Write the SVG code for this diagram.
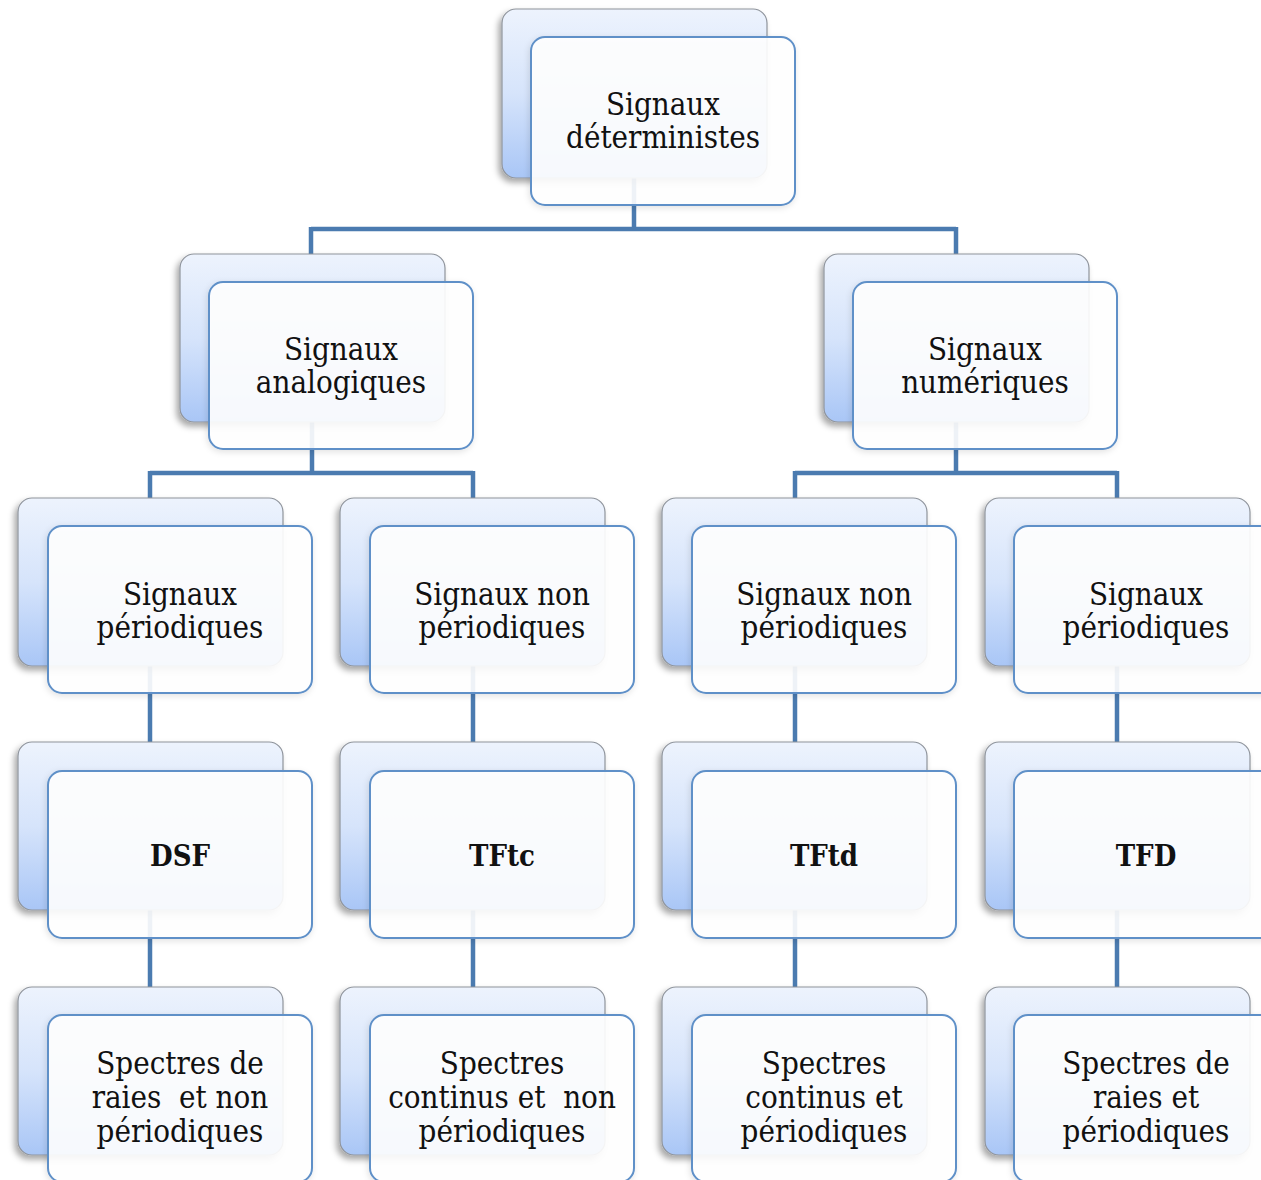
<svg xmlns="http://www.w3.org/2000/svg" width="1261" height="1180" viewBox="0 0 1261 1180">
<defs>
<linearGradient id="backGrad" x1="0" y1="0" x2="0" y2="1">
<stop offset="0" stop-color="#edf3fd"/>
<stop offset="0.5" stop-color="#d6e4fb"/>
<stop offset="1" stop-color="#a9c6f6"/>
</linearGradient>
<filter id="shadow" x="-10%" y="-10%" width="120%" height="125%">
<feDropShadow dx="-3" dy="4" stdDeviation="3" flood-color="#000" flood-opacity="0.35"/>
</filter>
<filter id="shadowSoft" x="-10%" y="-10%" width="120%" height="125%">
<feDropShadow dx="-1" dy="2" stdDeviation="3" flood-color="#000" flood-opacity="0.12"/>
</filter>
<style>
.back{fill:url(#backGrad);stroke:#8f949c;stroke-width:1.2;filter:url(#shadow)}
.front{fill:#ffffff;fill-opacity:0.9;stroke:#5f90c8;stroke-width:2;filter:url(#shadowSoft)}
.conn{fill:none;stroke:#4b7bb0;stroke-width:4.5}
text{font-family:"DejaVu Serif Condensed","Liberation Serif",serif;font-stretch:condensed;font-size:31px;fill:#111;text-anchor:middle;white-space:pre}
.b{font-weight:bold;font-size:29px}
</style>
</defs>
<rect width="1261" height="1180" fill="#ffffff"/>
<g id="connectors">
<path class="conn" d="M634 178 V229 M311 229 H956 M311 227 V254 M956 227 V254"/>
<path class="conn" d="M312 422 V473 M150 473 H473 M150 471 V498 M473 471 V498"/>
<path class="conn" d="M956 422 V473 M795 473 H1117 M795 471 V498 M1117 471 V498"/>
<path class="conn" d="M150 666 V742 M473 666 V742 M795 666 V742 M1117 666 V742"/>
<path class="conn" d="M150 910 V987 M473 910 V987 M795 910 V987 M1117 910 V987"/>
</g>
<g id="n-deterministes">
<rect class="back" x="502" y="9" width="265" height="169" rx="14"/>
<rect class="front" x="531" y="37" width="264" height="168" rx="14"/>
<text x="663" y="115">Signaux</text>
<text x="663" y="148">déterministes</text>
</g>
<g id="n-analogiques">
<rect class="back" x="180" y="254" width="265" height="168" rx="14"/>
<rect class="front" x="209" y="282" width="264" height="167" rx="14"/>
<text x="341" y="360">Signaux</text>
<text x="341" y="393">analogiques</text>
</g>
<g id="n-numeriques">
<rect class="back" x="824" y="254" width="265" height="168" rx="14"/>
<rect class="front" x="853" y="282" width="264" height="167" rx="14"/>
<text x="985" y="360">Signaux</text>
<text x="985" y="393">numériques</text>
</g>
<g id="n-per-a">
<rect class="back" x="18" y="498" width="265" height="168" rx="14"/>
<rect class="front" x="48" y="526" width="264" height="167" rx="14"/>
<text x="180" y="605">Signaux</text>
<text x="180" y="638">périodiques</text>
</g>
<g id="n-nonper-a">
<rect class="back" x="340" y="498" width="265" height="168" rx="14"/>
<rect class="front" x="370" y="526" width="264" height="167" rx="14"/>
<text x="502" y="605">Signaux non</text>
<text x="502" y="638">périodiques</text>
</g>
<g id="n-nonper-n">
<rect class="back" x="662" y="498" width="265" height="168" rx="14"/>
<rect class="front" x="692" y="526" width="264" height="167" rx="14"/>
<text x="824" y="605">Signaux non</text>
<text x="824" y="638">périodiques</text>
</g>
<g id="n-per-n">
<rect class="back" x="985" y="498" width="265" height="168" rx="14"/>
<rect class="front" x="1014" y="526" width="264" height="167" rx="14"/>
<text x="1146" y="605">Signaux</text>
<text x="1146" y="638">périodiques</text>
</g>
<g id="n-dsf">
<rect class="back" x="18" y="742" width="265" height="168" rx="14"/>
<rect class="front" x="48" y="771" width="264" height="167" rx="14"/>
<text class="b" x="180" y="866">DSF</text>
</g>
<g id="n-tftc">
<rect class="back" x="340" y="742" width="265" height="168" rx="14"/>
<rect class="front" x="370" y="771" width="264" height="167" rx="14"/>
<text class="b" x="502" y="866">TFtc</text>
</g>
<g id="n-tftd">
<rect class="back" x="662" y="742" width="265" height="168" rx="14"/>
<rect class="front" x="692" y="771" width="264" height="167" rx="14"/>
<text class="b" x="824" y="866">TFtd</text>
</g>
<g id="n-tfd">
<rect class="back" x="985" y="742" width="265" height="168" rx="14"/>
<rect class="front" x="1014" y="771" width="264" height="167" rx="14"/>
<text class="b" x="1146" y="866">TFD</text>
</g>
<g id="n-spec-a">
<rect class="back" x="18" y="987" width="265" height="168" rx="14"/>
<rect class="front" x="48" y="1015" width="264" height="167" rx="14"/>
<text x="180" y="1074">Spectres de</text>
<text x="180" y="1108">raies  et non</text>
<text x="180" y="1142">périodiques</text>
</g>
<g id="n-spec-b">
<rect class="back" x="340" y="987" width="265" height="168" rx="14"/>
<rect class="front" x="370" y="1015" width="264" height="167" rx="14"/>
<text x="502" y="1074">Spectres</text>
<text x="502" y="1108">continus et  non</text>
<text x="502" y="1142">périodiques</text>
</g>
<g id="n-spec-c">
<rect class="back" x="662" y="987" width="265" height="168" rx="14"/>
<rect class="front" x="692" y="1015" width="264" height="167" rx="14"/>
<text x="824" y="1074">Spectres</text>
<text x="824" y="1108">continus et</text>
<text x="824" y="1142">périodiques</text>
</g>
<g id="n-spec-d">
<rect class="back" x="985" y="987" width="265" height="168" rx="14"/>
<rect class="front" x="1014" y="1015" width="264" height="167" rx="14"/>
<text x="1146" y="1074">Spectres de</text>
<text x="1146" y="1108">raies et</text>
<text x="1146" y="1142">périodiques</text>
</g>
</svg>
